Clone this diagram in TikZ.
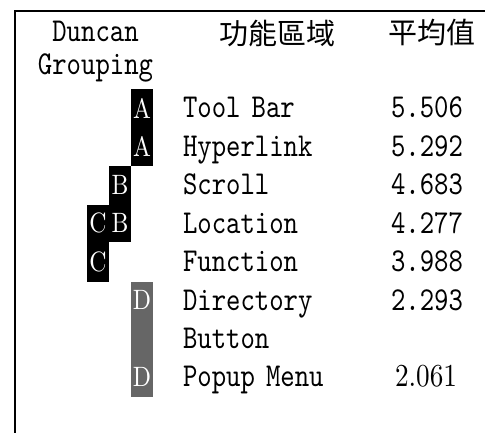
\documentclass[tikz,border=0pt]{standalone}
\usepackage{fontspec}
\newfontfamily\cjk{Noto Sans CJK TC}
\newfontfamily\monofnt{lmmono10-regular.otf}[FakeStretch=0.82]
\newfontfamily\romfnt{lmroman10-regular.otf}[FakeStretch=0.85]
\usetikzlibrary{positioning}

\begin{document}
\begin{tikzpicture}[x=1pt,y=-1pt,on grid,node distance=38.4pt,
    txt/.style={font=\monofnt\fontsize{33.4}{34}\selectfont,inner sep=0pt,text height=20pt,text depth=6pt},
    fname/.style={txt,text width=150pt,align=left},
    head/.style={font=\cjk\fontsize{29}{29}\selectfont,inner sep=0pt},
    tag/.style={font=\romfnt\fontsize{28}{28}\selectfont,text=white,inner sep=0pt}]
    \useasboundingbox (0,0) rectangle (485,433);
    \draw[line width=2pt] (485,11) -- (15,11) -- (15,433);
    % header
    \node[txt] (duncan) at (95.5,35) {Duncan};
    \node[txt] (grouping) at (95.5,68) {Grouping};
    \node[head] (area) at (277,33) {功能區域};
    \node[head] (mean) at (432,33) {平均值};
    % function areas
    \node[fname] (tb) at (258,111) {Tool Bar};
    \node[fname] [below=of tb] (hl) {Hyperlink};
    \node[fname] [below=of hl] (sc) {Scroll};
    \node[fname] [below=of sc] (lc) {Location};
    \node[fname] [below=of lc] (fn) {Function};
    \node[fname] [below=of fn] (dr) {Directory};
    \node[fname] [below=of dr] (bt) {Button};
    \node[fname] [below=of bt] (pm) {Popup Menu};
    % means
    \node[txt] [right=169pt of tb] (v_tb) {5.506};
    \node[txt] [right=169pt of hl] (v_hl) {5.292};
    \node[txt] [right=169pt of sc] (v_sc) {4.683};
    \node[txt] [right=169pt of lc] (v_lc) {4.277};
    \node[txt] [right=169pt of fn] (v_fn) {3.988};
    \node[txt] [right=169pt of dr] (v_dr) {2.293};
    \node[txt,font=\romfnt\fontsize{32}{32}\selectfont] [right=168pt of pm] (v_pm) {2.061};
    % Duncan groups
    \fill (131,89) rectangle (153,166);
    \fill (109,166) rectangle (131,242);
    \fill (87,205) rectangle (109,282);
    \fill[black!60] (131,282) rectangle (153,397);
    \node[tag] (a1) at (142,108) {A};
    \node[tag] (a2) at (142,146.4) {A};
    \node[tag] (b1) at (120,184.8) {B};
    \node[tag] (b2) at (120,223.2) {B};
    \node[tag] (c1) at (98,223.2) {C};
    \node[tag] (c2) at (98,261.6) {C};
    \node[tag] (d1) at (142,300) {D};
    \node[tag] (d2) at (142,376.8) {D};
\end{tikzpicture}
\end{document}
